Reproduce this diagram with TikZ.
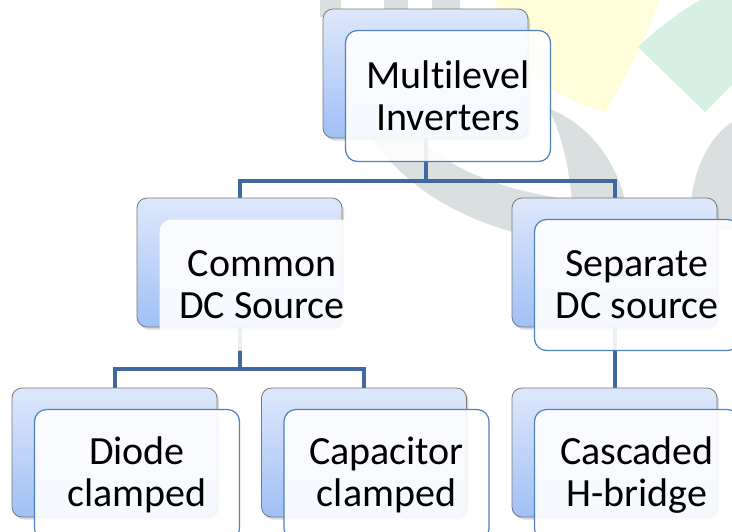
\documentclass[tikz,border=0pt]{standalone}
\usepackage{fontspec}
\setmainfont[Ligatures=NoCommon]{Carlito}
\usepackage{tikz}
\usetikzlibrary{shadows}
\definecolor{linkblue}{RGB}{65,105,160}
\definecolor{frontblue}{RGB}{79,129,189}
\definecolor{backtop}{RGB}{222,232,251}
\definecolor{backbottom}{RGB}{160,192,245}
\definecolor{backline}{RGB}{120,120,120}
\definecolor{wmgray}{RGB}{218,223,224}
\definecolor{wmyellow}{RGB}{255,253,218}
\definecolor{wmgreen}{RGB}{214,240,227}
\pgfdeclarelayer{watermark}
\pgfdeclarelayer{links}
\pgfsetlayers{watermark,links,main}
\tikzset{
  backbox/.style={rectangle, rounded corners=10pt, draw=backline, line width=0.8pt,
    top color=backtop, bottom color=backbottom, inner sep=0pt,
    minimum width=205pt, minimum height=129pt,
    drop shadow={shadow xshift=2pt, shadow yshift=-2.5pt, opacity=0.3}},
  frontbox/.style={rectangle, rounded corners=12pt, draw=frontblue, line width=1.2pt,
    fill=white, fill opacity=0.9, text opacity=1, inner sep=0pt,
    minimum width=205pt, minimum height=131pt, align=center,
    font=\fontsize{40}{42}\selectfont},
  link/.style={draw=linkblue, line width=4pt},
}
\begin{document}
\begin{tikzpicture}[x=1pt,y=-1pt]
\useasboundingbox (0,0) rectangle (732,531);
\clip (0,0) rectangle (732,531);

% top
\node[backbox] (inv) at (425.5,73.5) {};
\node[frontbox] (invtext) at ([shift={(22.5,22.5)}]inv.center) {Multilevel\\Inverters};

% second row
\node[backbox] (common) at (239.5,262.5) {};
\node[frontbox,draw=none] (commontext) at ([shift={(22.5,22.5)}]common.center) {Common\\DC Source};
\node[backbox] (separate) at (614.5,262.5) {};
\node[frontbox] (separatetext) at ([shift={(22.5,22.5)}]separate.center) {Separate\\DC source};

% third row
\node[backbox] (diode) at (114.5,452.5) {};
\node[frontbox] (diodetext) at ([shift={(22.5,22.5)}]diode.center) {Diode\\clamped};
\node[backbox] (capacitor) at (364,452.5) {};
\node[frontbox] (capacitortext) at ([shift={(22.5,22.5)}]capacitor.center) {Capacitor\\clamped};
\node[backbox] (cascaded) at (614.5,452.5) {};
\node[frontbox] (cascadedtext) at ([shift={(22.5,22.5)}]cascaded.center) {Cascaded\\H-bridge};

\begin{pgfonlayer}{links}
\draw[link] (inv.south) -- ++(0,43) -| (common.north);
\draw[link] (inv.south) -- ++(0,43) -| (separate.north);
\draw[link] (common.south) -- ++(0,42) -| (diode.north);
\draw[link] (common.south) -- ++(0,42) -| (capacitor.north);
\draw[link] (separate.south) -- (cascaded.north);
\end{pgfonlayer}

\begin{pgfonlayer}{watermark}
\fill[wmyellow] (496,0) .. controls (505,60) and (545,95) .. (605,112)
  .. controls (625,80) and (645,40) .. (659,0) -- cycle;
\fill[wmgreen] (638,47) .. controls (655,30) and (680,12) .. (700,0)
  -- (732,0) -- (732,85) -- (705,112) -- cycle;
\fill[wmgray] (360,120) .. controls (400,190) and (470,230) .. (575,245)
  -- (575,200) .. controls (490,190) and (430,160) .. (405,120) -- cycle;
\fill[wmgray] (548,108) .. controls (590,125) and (615,160) .. (625,200)
  -- (572,200) .. controls (568,160) and (560,130) .. (548,108) -- cycle;
\fill[wmgray] (732,122) .. controls (705,140) and (688,180) .. (690,230)
  -- (732,230) -- cycle;
\fill[wmgray] (320,0) rectangle (341,17);
\fill[wmgray] (384,0) rectangle (408,10);
\fill[wmgray] (432,0) rectangle (460,10);
\end{pgfonlayer}
\end{tikzpicture}
\end{document}
